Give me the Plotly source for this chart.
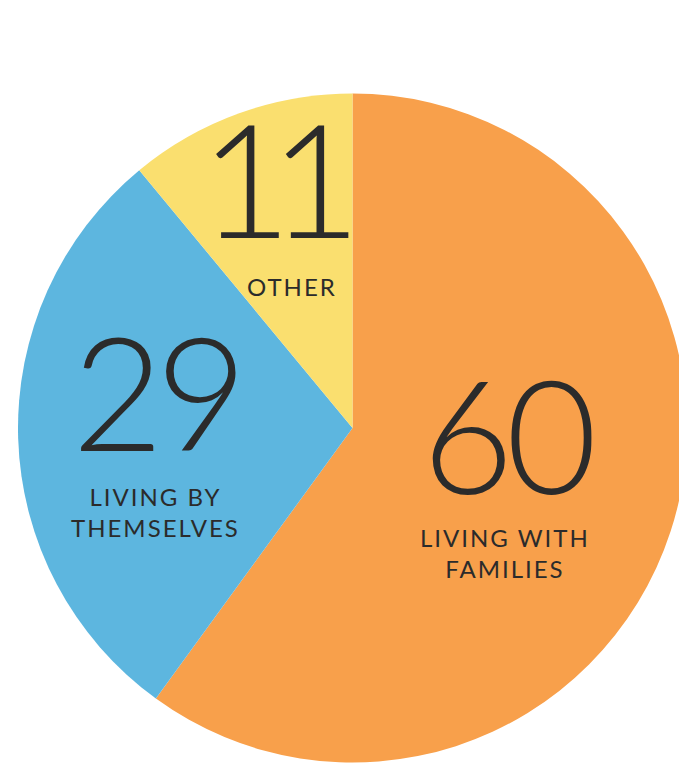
import plotly.graph_objects as go

labels = ["LIVING WITH<br>FAMILIES", "LIVING BY<br>THEMSELVES", "OTHER"]
values = [60, 29, 11]
colors = ["#F8A04B", "#5DB6DF", "#FADF6F"]

# text anchor positions (paper coords) for each slice's number and label
num_pos = [(0.735, 0.438), (0.2165, 0.495), (0.392, 0.776)]
num_spacing = [-8, -8, -22]
lab_pos = [(0.732, 0.279), (0.2165, 0.3333), (0.418, 0.631)]

W, H = 679, 756  # leave room for the page's 8px body margin

fig = go.Figure(go.Pie(
    labels=labels,
    values=values,
    marker=dict(colors=colors, line=dict(width=0)),
    sort=False,
    direction="clockwise",
    rotation=0,
    textinfo="none",
    hoverinfo="label+value",
    domain=dict(x=[10 / W, 1], y=[0, 672 / H]),
    showlegend=False,
))

num_font = dict(family="Lato, sans-serif", size=158, color="#2B2B2B", weight=300)
lab_font = dict(family="Lato, Open Sans, sans-serif", size=24, color="#2B2B2B")

annotations = []
for v, (x, y), ls in zip(values, num_pos, num_spacing):
    annotations.append(dict(text=f'<span style="letter-spacing:{ls}px">{v}</span>',
                            x=x, y=y, xref="paper", yref="paper", height=134, valign="middle",
                            xanchor="center", yanchor="middle", showarrow=False, font=num_font))
for t, (x, y) in zip(labels, lab_pos):
    annotations.append(dict(text='<span style="letter-spacing:2px">' + t.replace("<br>", '</span><br><span style="letter-spacing:2px">') + '</span>',
                            x=x, y=y, xref="paper", yref="paper",
                            xanchor="center", yanchor="middle", showarrow=False, font=lab_font))

fig.update_layout(
    width=W, height=H,
    margin=dict(l=0, r=0, t=0, b=0),
    paper_bgcolor="white", plot_bgcolor="white",
    annotations=annotations,
)

fig.write_html("out.html")
